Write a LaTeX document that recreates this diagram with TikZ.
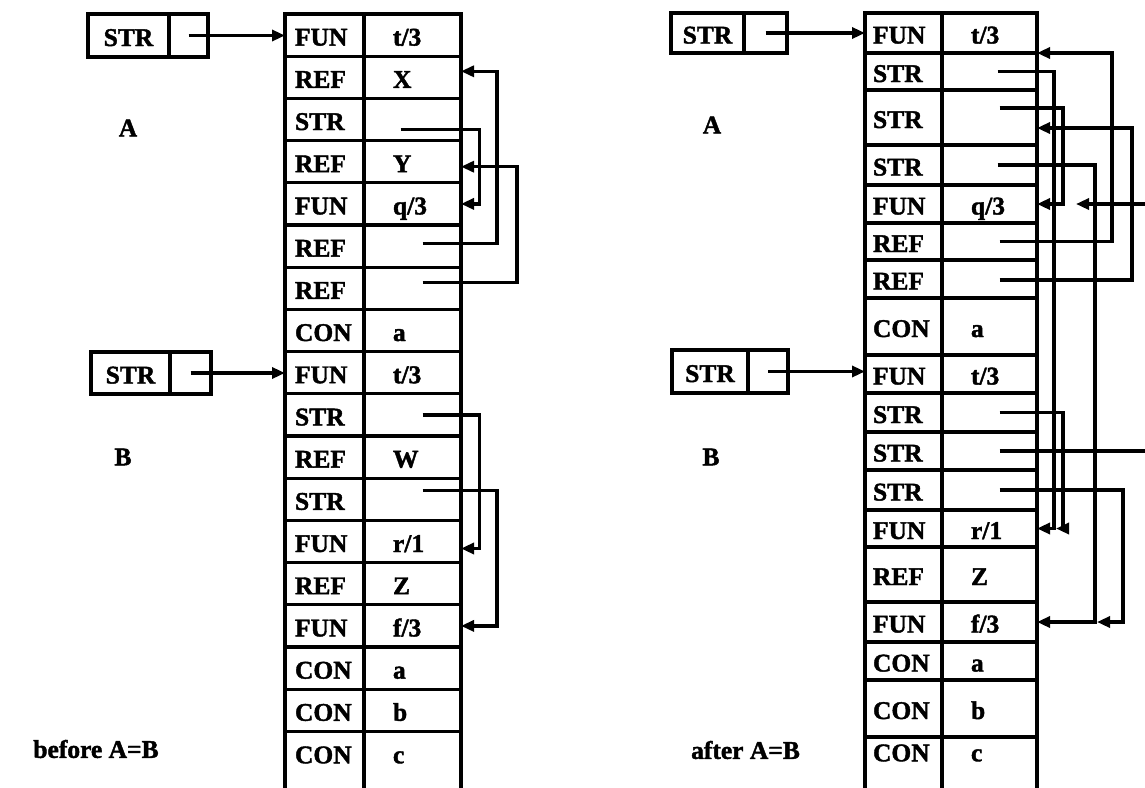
\documentclass[tikz,border=0pt]{standalone}
\usepackage{fontspec}
\setmainfont{Liberation Serif}[BoldFeatures={FakeBold=1.6}]
\usetikzlibrary{arrows.meta,calc}
\newcommand\lrow[4]{%
  \node[tagL] (Lt#1) at (324.5,#2) {\makebox[59pt][l]{#3}};
  \node[valL] (Lv#1) at (412.5,#2) {\makebox[39pt][l]{#4}};}
\newcommand\rrow[5]{%
  \node[tagR, minimum height=#3pt] (Rt#1) at (903.5,#2) {\makebox[61pt][l]{#4}};
  \node[valR, minimum height=#3pt] (Rv#1) at (989.5,#2) {\makebox[37pt][l]{#5}};}
\begin{document}
\begin{tikzpicture}[x=1pt,y=-1pt,
  every node/.style={font=\fontsize{25.5}{30}\selectfont\bfseries},
  cellbox/.style={draw, line width=3.2pt, outer sep=0pt, inner sep=0pt, text height=21pt, text depth=0pt},
  tagL/.style={cellbox, minimum width=79pt, minimum height=42.2pt},
  valL/.style={cellbox, minimum width=97pt, minimum height=42.2pt},
  tagR/.style={cellbox, minimum width=77pt},
  valR/.style={cellbox, minimum width=95pt},
  link/.style={line width=3.2pt, -{Triangle[length=13pt,width=11pt]}},
  wire/.style={line width=3.2pt},
  lbl/.style={inner sep=0pt}]
\clip (0,0) rectangle (1145,787);
\fill[white] (0,0) rectangle (1145,787);

% ---------- left: before A=B ----------
\lrow{0}{35.1}{FUN}{t/3}
\lrow{1}{77.3}{REF}{X}
\lrow{2}{119.5}{STR}{}
\lrow{3}{161.7}{REF}{Y}
\lrow{4}{203.9}{FUN}{q/3}
\lrow{5}{246.1}{REF}{}
\lrow{6}{288.3}{REF}{}
\lrow{7}{330.5}{CON}{a}
\lrow{8}{372.7}{FUN}{t/3}
\lrow{9}{414.9}{STR}{}
\lrow{10}{457.1}{REF}{W}
\lrow{11}{499.3}{STR}{}
\lrow{12}{541.5}{FUN}{r/1}
\lrow{13}{583.7}{REF}{Z}
\lrow{14}{625.9}{FUN}{f/3}
\lrow{15}{668.1}{CON}{a}
\lrow{16}{710.3}{CON}{b}
\node[tagL, draw=none, minimum height=42.8pt] (Lt17) at (324.5,752.8) {\makebox[59pt][l]{CON}};
\node[valL, draw=none, minimum height=42.8pt] (Lv17) at (412.5,752.8) {\makebox[39pt][l]{c}};
\draw[wire] (Lt17.north west) -- (Lv17.north east);
\draw[wire] (Lt17.north west) -- ++(0,70) (Lt17.north east) -- ++(0,70) (Lv17.north east) -- ++(0,70);

\node[cellbox, minimum width=81pt, minimum height=43pt] (sA1) at (128.5,35.5) {STR};
\node[cellbox, minimum width=39pt, minimum height=43pt] (pA1) at (188.5,35.5) {};
\node[cellbox, minimum width=79pt, minimum height=42pt] (sB1) at (130.5,373) {STR};
\node[cellbox, minimum width=41pt, minimum height=42pt] (pB1) at (190.5,373) {};
\draw[link] (pA1.center) -- (pA1.center -| Lt0.west);
\draw[link] (pB1.center) -- (pB1.center -| Lt8.west);

\node[lbl] (labA1) at (128,128) {A};
\node[lbl] (labB1) at (123,457) {B};
\node[lbl] (cap1) at (96,749) {before A=B};

\draw[link] ($(Lv5.center)+(10,-3)$) -- ++(74.5,0) |- ($(Lv1.east)+(0,-6)$);
\draw[link] ($(Lv2.center)+(-12,10)$) -- ++(79,0) |- (Lv4.east);
\draw[link] ($(Lv6.center)+(10,-6)$) -- ++(94.5,0) |- ($(Lv3.east)+(0,5)$);
\draw[link] ($(Lv9.center)+(10,0)$) -- ++(57,0) |- ($(Lv12.east)+(0,7)$);
\draw[link] ($(Lv11.center)+(10,-9)$) -- ++(74.5,0) |- (Lv14.east);

% ---------- right: after A=B ----------
\rrow{0}{33}{40}{FUN}{t/3}
\rrow{1}{71.5}{37}{STR}{}
\rrow{2}{117.5}{55}{STR}{}
\rrow{3}{165}{40}{STR}{}
\rrow{4}{204}{38}{FUN}{q/3}
\rrow{5}{241.5}{37}{REF}{}
\rrow{6}{279}{38}{REF}{}
\rrow{7}{326.5}{57}{CON}{a}
\rrow{8}{374}{38}{FUN}{t/3}
\rrow{9}{412.5}{39}{STR}{}
\rrow{10}{451}{38}{STR}{}
\rrow{11}{490}{40}{STR}{}
\rrow{12}{528.5}{37}{FUN}{r/1}
\rrow{13}{574.5}{55}{REF}{Z}
\rrow{14}{622}{40}{FUN}{f/3}
\rrow{15}{661}{38}{CON}{a}
\rrow{16}{708.5}{57}{CON}{b}
\node[tagR, draw=none, minimum height=27.6pt] (Rt17) at (903.5,750.8) {\makebox[61pt][l]{CON}};
\node[valR, draw=none, minimum height=27.6pt] (Rv17) at (989.5,750.8) {\makebox[37pt][l]{c}};
\draw[wire] (Rt17.north west) -- (Rv17.north east);
\draw[wire] (Rt17.north west) -- ++(0,70) (Rt17.north east) -- ++(0,70) (Rv17.north east) -- ++(0,70);

\node[cellbox, minimum width=73pt, minimum height=40pt] (sA2) at (707.5,33) {STR};
\node[cellbox, minimum width=43pt, minimum height=40pt] (pA2) at (765.5,33) {};
\node[cellbox, minimum width=76pt, minimum height=43pt] (sB2) at (710,371.5) {STR};
\node[cellbox, minimum width=40pt, minimum height=43pt] (pB2) at (768,371.5) {};
\draw[link] (pA2.center) -- (pA2.center -| Rt0.west);
\draw[link] (pB2.center) -- (pB2.center -| Rt8.west);

\node[lbl] (labA2) at (712,125) {A};
\node[lbl] (labB2) at (711,457) {B};
\node[lbl] (cap2) at (745.5,750) {after A=B};

\coordinate (ja) at ($(Rv12.east)+(19,0)$);
\coordinate (jb) at ($(Rv4.east)+(39,0)$);
\coordinate (jc) at ($(Rv14.east)+(60,0)$);

\draw[link] ($(Rv1.center)+(8,0)$) -- ++(56.5,0) |- (Rv12.east);
\draw[link] ($(Rv2.center)+(10,-9.5)$) -- ++(63.5,0) |- (Rv4.east);
\draw[link] ($(Rv3.center)+(8,0)$) -- ++(97.5,0) |- (Rv14.east);
\draw[link] ($(Rv5.center)+(10,0)$) -- ++(112.5,0) |- (Rv0.south east);
\draw[link] ($(Rv6.center)+(10,1)$) -- ++(132.5,0) |- ($(Rv2.east)+(0,10.5)$);
\draw[link] ($(Rv9.center)+(10,0)$) -- ++(63.5,0) |- (ja);
\draw[wire] ($(Rv10.center)+(10,0)$) -- ++(160,0);
\draw[link] ($(jb)+(90,0)$) -- (jb);
\draw[link] ($(Rv11.center)+(10,0)$) -- ++(123.5,0) |- (jc);
\end{tikzpicture}
\end{document}
